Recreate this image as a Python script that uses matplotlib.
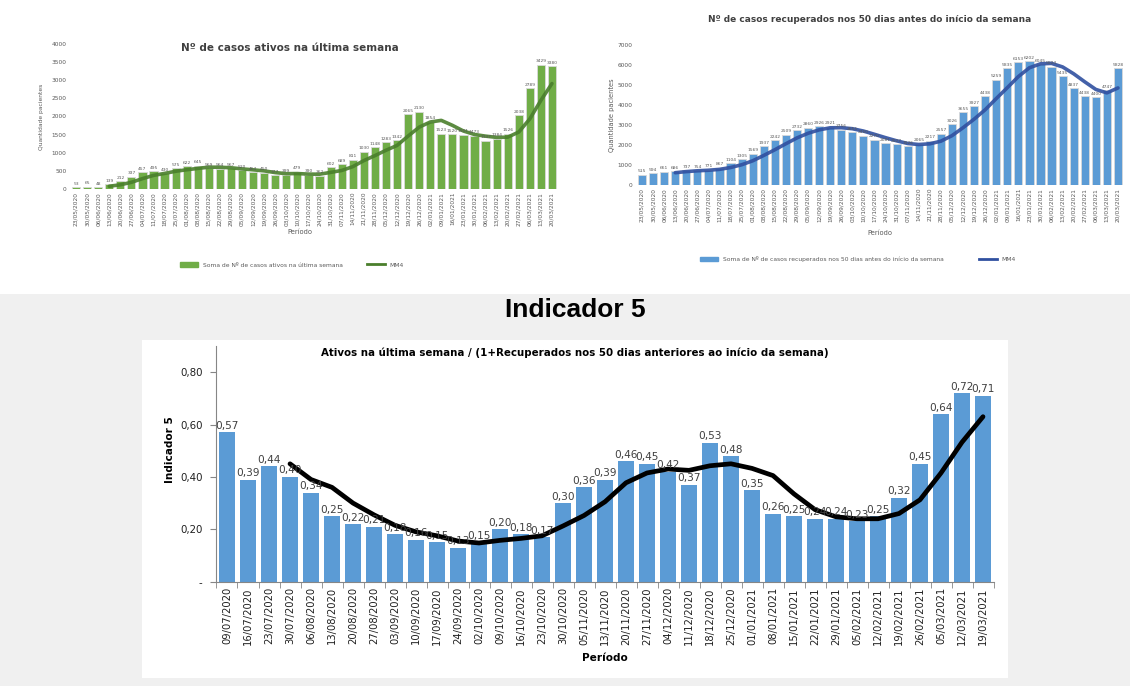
import matplotlib
matplotlib.use('Agg')
import matplotlib.pyplot as plt
from matplotlib.patches import Rectangle, Patch
from matplotlib.lines import Line2D
import numpy as np

# ---- data: top charts (weekly, 23/05/2020 .. 20/03/2021)
week_dates = ['23/05/2020', '30/05/2020', '06/06/2020', '13/06/2020', '20/06/2020', '27/06/2020',
              '04/07/2020', '11/07/2020', '18/07/2020', '25/07/2020', '01/08/2020', '08/08/2020',
              '15/08/2020', '22/08/2020', '29/08/2020', '05/09/2020', '12/09/2020', '19/09/2020',
              '26/09/2020', '03/10/2020', '10/10/2020', '17/10/2020', '24/10/2020', '31/10/2020',
              '07/11/2020', '14/11/2020', '21/11/2020', '28/11/2020', '05/12/2020', '12/12/2020',
              '19/12/2020', '26/12/2020', '02/01/2021', '09/01/2021', '16/01/2021', '23/01/2021',
              '30/01/2021', '06/02/2021', '13/02/2021', '20/02/2021', '27/02/2021', '06/03/2021',
              '13/03/2021', '20/03/2021']

ativos = [53, 65, 48, 139, 212, 337, 457, 495, 430, 575, 622, 645, 569, 564, 567, 520, 464, 450,
          377, 399, 479, 390, 362, 602, 689, 811, 1030, 1148, 1283, 1342, 2065, 2130, 1854, 1523,
          1520, 1501, 1473, 1337, 1384, 1526, 2038, 2789, 3429, 3380]
# MM4 line as read (starts on the 4th week)
ativos_mm4 = [76, 116, 184, 286, 375, 430, 489, 531, 568, 603, 600, 586, 555, 529, 500, 453, 423,
              426, 411, 408, 458, 511, 616, 783, 920, 1068, 1201, 1460, 1705, 1848, 1893, 1757,
              1600, 1504, 1458, 1424, 1430, 1571, 1934, 2446, 2909]

recuperados = [515, 594, 661, 686, 737, 754, 771, 867, 1104, 1305, 1569, 1937, 2242, 2509, 2732,
               2860, 2926, 2921, 2756, 2655, 2460, 2270, 2081, 2027, 1926, 2065, 2217, 2557, 3026,
               3655, 3927, 4438, 5259, 5835, 6153, 6202, 6045, 5924, 5435, 4837, 4438, 4400, 4747,
               5828]
recuperados_mm4 = [614, 670, 710, 737, 782, 874, 1012, 1211, 1479, 1763, 2064, 2355, 2586, 2757,
                   2860, 2866, 2815, 2698, 2535, 2367, 2210, 2076, 2025, 2059, 2191, 2466, 2864,
                   3291, 3762, 4320, 4865, 5421, 5862, 6059, 6081, 5902, 5560, 5159, 4778, 4606,
                   4853]

# ---- data: Indicador 5
ind_dates = ['09/07/2020', '16/07/2020', '23/07/2020', '30/07/2020', '06/08/2020', '13/08/2020',
             '20/08/2020', '27/08/2020', '03/09/2020', '10/09/2020', '17/09/2020', '24/09/2020',
             '02/10/2020', '09/10/2020', '16/10/2020', '23/10/2020', '30/10/2020', '05/11/2020',
             '13/11/2020', '20/11/2020', '27/11/2020', '04/12/2020', '11/12/2020', '18/12/2020',
             '25/12/2020', '01/01/2021', '08/01/2021', '15/01/2021', '22/01/2021', '29/01/2021',
             '05/02/2021', '12/02/2021', '19/02/2021', '26/02/2021', '05/03/2021', '12/03/2021',
             '19/03/2021']
indicador = [0.57, 0.39, 0.44, 0.40, 0.34, 0.25, 0.22, 0.21, 0.18, 0.16, 0.15, 0.13, 0.15, 0.20,
             0.18, 0.17, 0.30, 0.36, 0.39, 0.46, 0.45, 0.42, 0.37, 0.53, 0.48, 0.35, 0.26, 0.25,
             0.24, 0.24, 0.23, 0.25, 0.32, 0.45, 0.64, 0.72, 0.71]
indicador_mm4 = [0.45, 0.39, 0.36, 0.30, 0.255, 0.215, 0.19, 0.175, 0.155, 0.1475, 0.1575, 0.165,
                 0.175, 0.2125, 0.2525, 0.305, 0.3775, 0.415, 0.43, 0.425, 0.4425, 0.45, 0.4325,
                 0.405, 0.335, 0.275, 0.2475, 0.24, 0.24, 0.26, 0.3125, 0.415, 0.5325, 0.63]

W, H = 1130, 686
fig = plt.figure(figsize=(W / 100, H / 100), dpi=100)
plt.rcParams['font.family'] = 'DejaVu Sans'


def px_axes(x0, y_top, x1, y_bot):
    return fig.add_axes([x0 / W, 1 - y_bot / H, (x1 - x0) / W, (y_bot - y_top) / H])


def fmt_br(v):
    return f'{v:.2f}'.replace('.', ',')


def top_chart(ax, values, mm, ymax, step, bar_col, line_col):
    x = np.arange(len(values))
    bars = ax.bar(x, values, width=0.74, color=bar_col, edgecolor='#d9d9d9', linewidth=0.6)
    ax.bar_label(bars, labels=[str(v) for v in values], fontsize=3.2, padding=1, color='#595959')
    ax.plot(x[3:], mm, color=line_col, lw=2.6, solid_capstyle='round',
            solid_joinstyle='round', alpha=0.9)
    ax.set_xlim(-0.5, len(values) - 0.5)
    ax.set_ylim(0, ymax)
    ax.set_yticks(np.arange(0, ymax + 1, step))
    ax.set_xticks(x)
    ax.set_xticklabels(week_dates, rotation=90, fontsize=4.2, color='#595959')
    ax.tick_params(axis='y', labelsize=4.2, labelcolor='#595959', length=0, pad=3)
    ax.tick_params(axis='x', length=0, pad=2)
    for s in ax.spines.values():
        s.set_visible(False)
    ax.set_facecolor('none')


# ---- top left
ax1 = px_axes(70.5, 44, 557.5, 189)
top_chart(ax1, ativos, ativos_mm4, 4000, 500, '#70ad47', '#4a7f2c')
fig.text(290 / W, 1 - 48 / H, 'Nº de casos ativos na última semana', ha='center', va='center',
         fontsize=7.5, fontweight='bold', color='#404040')
fig.text(42 / W, 1 - 117 / H, 'Quantidade pacientes', rotation=90, ha='center', va='center',
         fontsize=4.3, color='#595959')
fig.text(300 / W, 1 - 232 / H, 'Período', ha='center', va='center', fontsize=4.8, color='#595959')
fig.legend(handles=[Patch(color='#70ad47', label='Soma de Nº de casos ativos na última semana'),
                    Line2D([], [], color='#4a7f2c', lw=2, label='MM4')],
           loc='center', bbox_to_anchor=(292 / W, 1 - 265 / H), ncol=2, frameon=False,
           fontsize=4.3, handlelength=3, columnspacing=4, labelcolor='#595959')

# ---- top right
ax2 = px_axes(636.5, 45, 1123.5, 185)
top_chart(ax2, recuperados, recuperados_mm4, 7000, 1000, '#5b9bd5', '#3050a0')
fig.text(870 / W, 1 - 20 / H, 'Nº de casos recuperados nos 50 dias antes do início da semana',
         ha='center', va='center', fontsize=6.5, fontweight='bold', color='#404040')
fig.text(612 / W, 1 - 115 / H, 'Quantidade pacientes', rotation=90, ha='center', va='center',
         fontsize=4.8, color='#595959')
fig.text(880 / W, 1 - 233 / H, 'Período', ha='center', va='center', fontsize=4.8, color='#595959')
fig.legend(handles=[Patch(color='#5b9bd5',
                          label='Soma de Nº de casos recuperados nos 50 dias antes do início da semana'),
                    Line2D([], [], color='#3050a0', lw=2, label='MM4')],
           loc='center', bbox_to_anchor=(858 / W, 1 - 259 / H), ncol=2, frameon=False,
           fontsize=4.3, handlelength=3, columnspacing=6, labelcolor='#595959')

# ---- bottom panel
fig.patches.append(Rectangle((0, 0), 1, 1 - 294 / H, transform=fig.transFigure,
                             facecolor='#f0f0f0', edgecolor='none', zorder=-10))
fig.patches.append(Rectangle((142 / W, 1 - 678 / H), (1008 - 142) / W, (678 - 340) / H,
                             transform=fig.transFigure, facecolor='white', edgecolor='none',
                             zorder=-9))
fig.text(575 / W, 1 - 310 / H, 'Indicador 5', ha='center', va='center', fontsize=19,
         fontweight='bold', family='Liberation Sans', color='black')

ax3 = px_axes(216.5, 346, 993.5, 581.6)
xb = np.arange(len(indicador))
bars = ax3.bar(xb, indicador, width=0.76, color='#5b9bd5')
ax3.bar_label(bars, labels=[fmt_br(v) for v in indicador], fontsize=7.6, padding=1,
              color='#404040')
ax3.plot(xb[3:], indicador_mm4, color='black', lw=3.4, solid_joinstyle='round',
         solid_capstyle='round')
ax3.set_xlim(-0.5, len(indicador) - 0.5)
ax3.set_ylim(0, 0.9)
ax3.set_yticks([0, 0.2, 0.4, 0.6, 0.8])
ax3.set_yticklabels(['-', '0,20', '0,40', '0,60', '0,80'])
ax3.set_xticks(xb)
ax3.set_xticklabels(ind_dates, rotation=90, fontsize=7.2, color='#202020')
ax3.set_xticks(np.arange(-0.5, len(indicador), 1), minor=True)
ax3.tick_params(axis='x', which='major', length=0, pad=4)
ax3.tick_params(axis='x', which='minor', length=4, color='#868686')
ax3.tick_params(axis='y', labelsize=7.4, labelcolor='#202020', length=4, color='#868686', pad=6)
for side in ['top', 'right']:
    ax3.spines[side].set_visible(False)
for side in ['left', 'bottom']:
    ax3.spines[side].set_color('#868686')
ax3.set_facecolor('white')
fig.text(575 / W, 1 - 353 / H,
         'Ativos na última semana / (1+Recuperados nos 50 dias anteriores ao início da semana)',
         ha='center', va='center', fontsize=7.4, fontweight='bold', color='black')
fig.text(170 / W, 1 - 450 / H, 'Indicador 5', rotation=90, ha='center', va='center',
         fontsize=7.6, fontweight='bold')
fig.text(605 / W, 1 - 658 / H, 'Período', ha='center', va='center', fontsize=7.6,
         fontweight='bold')

fig.savefig('out.png', dpi=100)
